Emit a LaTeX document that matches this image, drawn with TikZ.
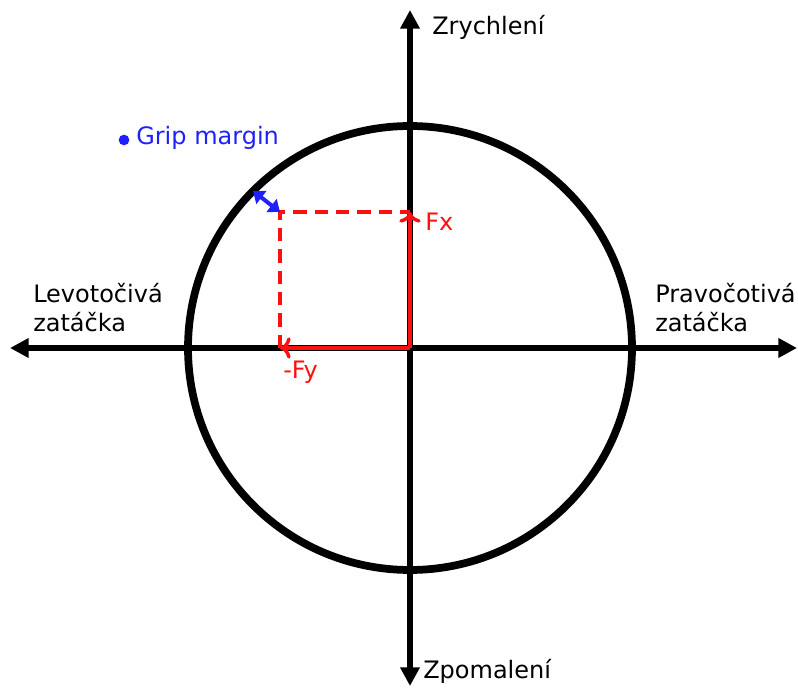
\documentclass[tikz,border=0pt]{standalone}
\usepackage{fontspec}
\setmainfont{DejaVu Sans}
\usetikzlibrary{arrows.meta,positioning,calc}
\definecolor{GripRed}{HTML}{FF1010}
\definecolor{GripBlue}{HTML}{2020FF}
\tikzset{axis/.style={-{Triangle[length=14pt,width=14pt]},line width=4.5pt},
axistext/.style={font=\fontsize{18}{22}\selectfont,align=left,inner sep=0pt},
force/.style={-{To[length=8pt,width=16pt,line width=2.6pt]},line width=3pt,draw=GripRed},
helper/.style={dash pattern=on 10pt off 6pt,line width=3pt,draw=GripRed},
margin/.style={{Triangle[length=8pt,width=12pt]}-{Triangle[length=8pt,width=12pt]},line width=3pt,draw=GripBlue}}

\begin{document}
\begin{tikzpicture}[x=0.75pt,y=0.75pt]
\useasboundingbox (0,0) rectangle (798,688);
% axes and friction circle
\coordinate (o) at (410,340);
\coordinate (top) at (410,678);
\coordinate (bottom) at (410,2);
\coordinate (left) at (10,340);
\coordinate (right) at (797,340);
\draw[axis] (o)--(top);\draw[axis] (o)--(bottom);
\draw[axis] (o)--(left);\draw[axis] (o)--(right);
\draw[line width=5.8pt] (o) circle[radius=166.5pt];
\node[axistext,anchor=west] (accel) at (432,661) {Zrychlení};
\node[axistext,anchor=west] (decel) at (423,17) {Zpomalení};
\node[axistext,anchor=north west] (leftturn) at (33,405) {Levotočivá\\zatáčka};
\node[axistext,anchor=north west] (rightturn) at (655,405) {Pravočotivá\\zatáčka};
% force components
\coordinate (fx) at (410,476);
\coordinate (fy) at (280,340);
\coordinate (res) at (280,476);
\coordinate (edge) at ($(o)+(135:166.5pt)$);
\draw[helper] (fy)--(res)--(fx);
\draw[force] (o)--(fx);\draw[force] (o)--(fy);
\draw[margin] (res)--(edge);
\node[axistext,text=GripRed,anchor=west] (fxlabel) at (425,466) {Fx};
\node[axistext,text=GripRed,anchor=west] (fylabel) at (283,316) {-Fy};
\fill[GripBlue] (124,548) circle[radius=4pt] coordinate (dot);
\node[axistext,text=GripBlue,anchor=west] (grip) at (136,550) {Grip margin};
\end{tikzpicture}
\end{document}
